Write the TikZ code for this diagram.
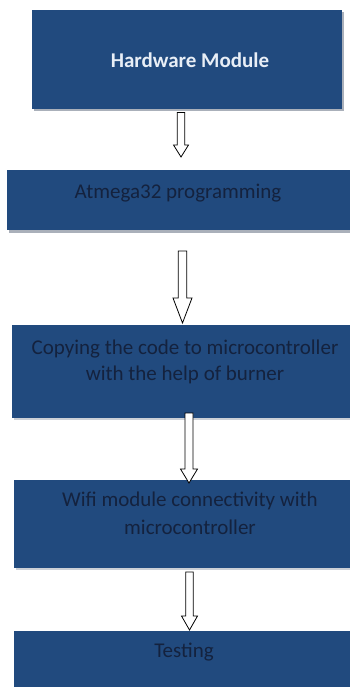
\documentclass[tikz,border=0pt]{standalone}
\usepackage{fontspec}
\setmainfont{Carlito}
\usetikzlibrary{calc}
\definecolor{boxblue}{RGB}{33,74,126}
\definecolor{darktext}{RGB}{20,34,62}
\definecolor{lighttext}{RGB}{232,238,246}
\definecolor{shadowgray}{RGB}{170,176,186}
\tikzset{
  stagebox/.style={draw=none, fill=boxblue, rectangle, anchor=north west, inner sep=0pt},
  boxshadow/.style={fill=shadowgray},
  softshadow/.style={fill=shadowgray!60},
  darklabel/.style={text=darktext, font=\fontsize{21}{26}\selectfont, align=center, inner sep=0pt},
  lightlabel/.style={text=lighttext, font=\fontsize{21}{26}\selectfont\bfseries, align=center, inner sep=0pt},
  blockarrow/.style={draw=black, fill=white, line width=0.8pt, line join=miter},
}
\newcommand{\blkarrow}[5]{%
  \draw[blockarrow] ($(#1)+(-#3,0)$) -- ($(#2)+(-#3,-#5)$) -- ($(#2)+(-#4,-#5)$) -- (#2)
    -- ($(#2)+(#4,-#5)$) -- ($(#2)+(#3,-#5)$) -- ($(#1)+(#3,0)$) -- cycle;}
\begin{document}
\begin{tikzpicture}[x=1pt,y=-1pt]
\useasboundingbox (0,0) rectangle (350,687);
\clip (0,0) rectangle (350,687);
\fill[white] (0,0) rectangle (350,687);
% shadows
\fill[boxshadow] (34,12) rectangle (344,111);
\fill[boxshadow] (9,172) rectangle (352,233);
\fill[softshadow] (14,327) rectangle (352,420);
\fill[softshadow] (16,482) rectangle (352,570);
% boxes
\node[stagebox, minimum width=310pt, minimum height=99pt] (b1) at (32,10) {};
\node[stagebox, minimum width=345pt, minimum height=60pt] (b2) at (7,170) {};
\node[stagebox, minimum width=340pt, minimum height=93pt] (b3) at (12,325) {};
\node[stagebox, minimum width=340pt, minimum height=88pt] (b4) at (14,480) {};
\node[stagebox, minimum width=340pt, minimum height=60pt] (b5) at (14,631) {};
% labels
\node[lightlabel] (t1) at (190,60) {Hardware Module};
\node[darklabel] (t2) at (178,193) {Atmega32 programming};
\node[darklabel] (t3) at (185,362) {Copying the code to microcontroller\\with the help of burner};
\node[darklabel, font=\fontsize{21}{28}\selectfont] (t4) at (190,513) {Wifi module connectivity with\\microcontroller};
\node[darklabel] (t5) at (184,652) {Testing};
% arrow endpoints
\coordinate (a1s) at (181,112.5);
\coordinate (a1e) at (181,157);
\coordinate (a2s) at (182.5,251);
\coordinate (a2e) at (182.5,323);
\coordinate (a3s) at (189,413);
\coordinate (a3e) at (189,483);
\coordinate (a4s) at (189.5,572);
\coordinate (a4e) at (189.5,630);
\blkarrow{a1s}{a1e}{3.7}{7.5}{12}
\blkarrow{a2s}{a2e}{4.3}{9.5}{25}
\blkarrow{a3s}{a3e}{4}{8.5}{14}
\blkarrow{a4s}{a4e}{3.7}{8}{14}
\end{tikzpicture}
\end{document}
